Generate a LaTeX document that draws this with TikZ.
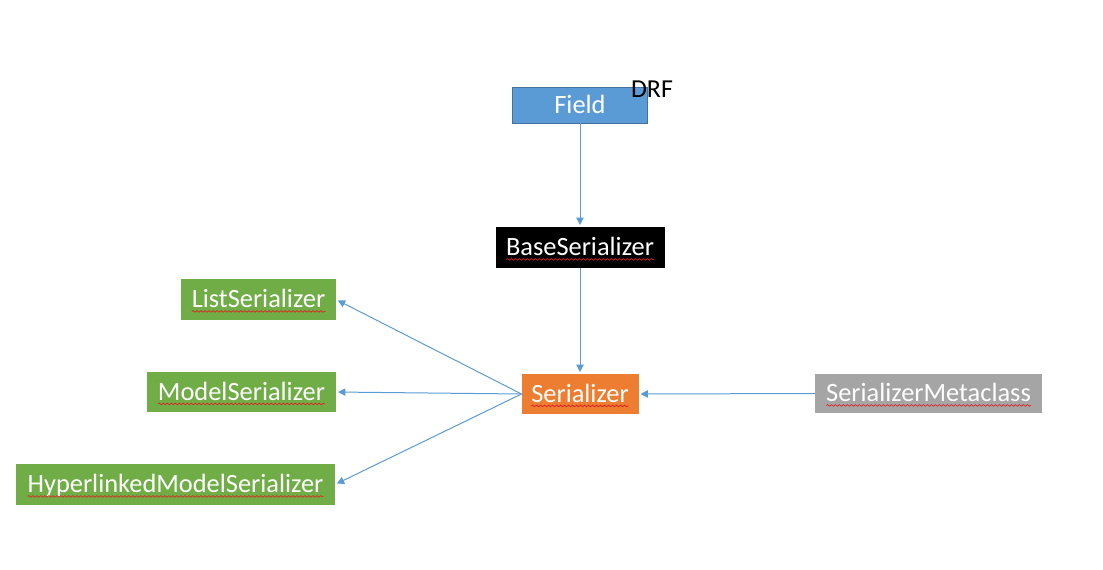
\documentclass[tikz,border=0pt]{standalone}
\usepackage{fontspec}
\setmainfont{Carlito}
\usetikzlibrary{arrows.meta,decorations.pathmorphing}
\definecolor{lineblue}{HTML}{5B9BD5}
\definecolor{fieldblue}{HTML}{5B9BD5}
\definecolor{fieldborder}{HTML}{41719C}
\definecolor{boxgreen}{HTML}{70AD47}
\definecolor{boxorange}{HTML}{ED7D31}
\definecolor{boxgray}{HTML}{A5A5A5}
\definecolor{squigred}{HTML}{E02020}
\begin{document}
\begin{tikzpicture}[x=0.75pt,y=-0.75pt,
  box/.style={inner sep=0pt, outer sep=0pt, anchor=center},
  lbl/.style={text=white, font=\fontsize{19.8}{23.8}\selectfont, inner sep=0pt, outer sep=0pt, text height=12.7pt, text depth=0pt},
  conn/.style={draw=lineblue, line width=0.75pt, -{Triangle[length=5.5pt,width=5.5pt]}, shorten >=1.5pt},
  squig/.style={draw=squigred, line width=0.5pt, decorate, decoration={snake, amplitude=0.6pt, segment length=3pt}}]
\useasboundingbox (0,0) rectangle (1103,569);

% boxes
\node[box, fill=fieldblue, draw=fieldborder, line width=0.75pt, minimum width=101.25pt, minimum height=27pt] (field) at (580,105) {};
\node[box, fill=black, minimum width=126.75pt, minimum height=30.75pt] (base) at (580,247.5) {};
\node[box, fill=boxgreen, minimum width=116.25pt, minimum height=30.75pt] (ls) at (258.5,299.5) {};
\node[box, fill=boxgreen, minimum width=141.75pt, minimum height=30pt] (ms) at (241.5,392) {};
\node[box, fill=boxgreen, minimum width=239.25pt, minimum height=30.75pt] (hs) at (175.5,484.5) {};
\node[box, fill=boxorange, minimum width=87.75pt, minimum height=30pt] (ser) at (580,394) {};
\node[box, fill=boxgray, minimum width=170.25pt, minimum height=29.25pt] (meta) at (928.5,393.5) {};

% labels
\node[lbl] (field-t) at (field) {Field};
\node[lbl] (base-t) at (base) {BaseSerializer};
\node[lbl] (ls-t) at (ls) {ListSerializer};
\node[lbl] (ms-t) at (ms) {ModelSerializer};
\node[lbl] (hs-t) at (hs) {HyperlinkedModelSerializer};
\node[lbl] (ser-t) at (ser) {Serializer};
\node[lbl] (meta-t) at (meta) {SerializerMetaclass};
\node[font=\fontsize{19.4}{23}\selectfont, inner sep=0pt, anchor=base] (drf) at (652,97) {DRF};

% spelling squiggles
\foreach \t in {base-t,ls-t,ms-t,hs-t,ser-t,meta-t}{
  \draw[squig] ([yshift=-2.6pt]\t.south west) -- ([yshift=-2.6pt]\t.south east);
}

% connectors
\draw[conn] (field.south) -- (base.north);
\draw[conn] (base.south) -- (ser.north);
\draw[conn] (ser.west) -- (ls.east);
\draw[conn] (ser.west) -- (ms.east);
\draw[conn] (ser.west) -- (hs.east);
\draw[conn] (meta.west) -- (ser.east);
\end{tikzpicture}
\end{document}
